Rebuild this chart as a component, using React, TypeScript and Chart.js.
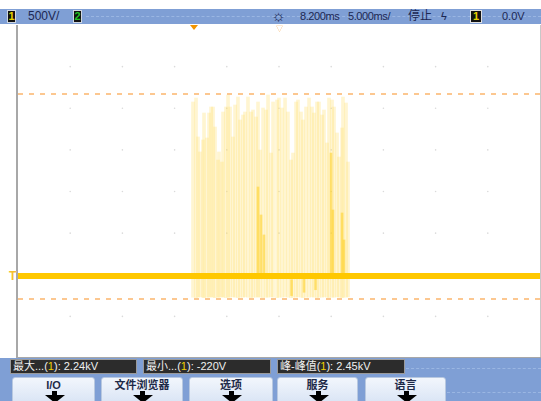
import React, { useEffect, useRef } from "react";
import { Chart, registerables } from "chart.js";

Chart.register(...registerables);

// time axis (ms), 10 divisions of 5 ms; voltage axis (V), 8 divisions of 500 V
const xTicks = [-25, -20, -15, -10, -5, 0, 5, 10, 15, 20, 25];
const yTicks = [-1000, -500, 0, 500, 1000, 1500, 2000, 2500, 3000];

// light burst spikes
const spikeTimes = [
  -8.24, -7.95, -7.76, -7.57, -7.28, -7.18, -6.9, -6.7, -6.51, -6.32, -6.13, -5.84, -5.75, -5.46,
  -5.36, -5.08, -4.88, -4.69, -4.41, -4.21, -3.93, -3.73, -3.45, -3.26, -2.97, -2.68, -2.49, -2.2,
  -2.01, -1.82, -1.53, -1.24, -1.05, -0.76, -0.57, -0.19, 0.0, 0.29, 0.58, 0.86, 1.15, 1.34, 1.63,
  1.82, 2.11, 2.3, 2.59, 2.88, 3.16, 3.35, 3.64, 3.83, 4.12, 4.31, 4.6, 4.79, 5.08, 5.27, 5.56,
  5.75, 6.04, 6.13, 6.42, 6.61,
];
const spikeTops = [
  2075, 2123, 1655, 1475, 1619, 1943, 1643, 1943, 2015, 2015, 1775, 1378, 1475, 1354,
  1955, 2015, 2159, 2015, 1655, 2039, 2135, 1859, 1919, 1955, 2135, 1955, 1979, 1895,
  2075, 1498, 2003, 1979, 2159, 1462, 2075, 2099, 2123, 2003, 2123, 1955, 1378, 1462, 2075,
  2099, 1955, 1859, 2015, 2123, 2015, 1943, 2075, 2075, 1919, 1979, 1583, 2123, 2099, 2015, 1703,
  1414, 1763, 2135, 2063, 1354,
];
const spikeBottoms = [
  -270, -275, -270, -265, -270, -275, -270, -270, -265, -270, -275, -270, -270, -265,
  -270, -275, -270, -270, -265, -270, -275, -270, -270, -265, -270, -275, -270, -270,
  -265, -270, -275, -270, -270, -265, -270, -275, -270, -270, -265, -270, -275, -270, -270,
  -265, -270, -275, -270, -270, -265, -270, -275, -270, -270, -265, -270, -275, -270, -270,
  -265, -270, -275, -270, -270, -265,
];

// brighter (denser) spikes
const darkTimes = [-2.01, -1.72, -1.44, 1.2, 2.4, 3.5, 4.98, 5.17, 6.04, 6.23];
const darkTops = [1054, 718, 478, -60, -40, -30, 1462, 778, 742, 418];
const darkBottoms = [0, 0, 0, -250, -210, -180, 0, 0, 0, 0];

// main trace and cursor levels
const traceTimes = [-25, 25];
const traceValues = [-15, -15];
const maxCursor = 2170;
const minCursor = -290;

const topBarItems = ["500V/", "8.200ms", "5.000ms/", "停止", "0.0V"];
const measureLabels = ["最大...(", "最小...(", "峰-峰值("];
const measureValues = ["): 2.24kV", "): -220V", "): 2.45kV"];
const buttonLabels = ["I/O", "文件浏览器", "选项", "服务", "语言"];

const FONT = '"Liberation Sans", "Noto Sans CJK SC", Arial, sans-serif';
const BLUE = "#7f9fd5";

const measureBoxes = [
  { left: 10, width: 127 },
  { left: 143, width: 128 },
  { left: 277, width: 128 },
];
const buttonBoxes = [
  { left: 12, width: 83 },
  { left: 101, width: 82 },
  { left: 189, width: 84 },
  { left: 277, width: 81 },
  { left: 365, width: 81 },
];

function Badge({ left, text, color }: { left: number; text: string; color: string }) {
  return (
    <div
      style={{
        position: "absolute",
        left,
        top: 10,
        width: 9,
        height: 13,
        background: "#111",
        border: "1px solid #cfd6e0",
        boxSizing: "border-box",
        color,
        fontFamily: FONT,
        fontWeight: "bold",
        fontSize: 11,
        lineHeight: "11px",
        textAlign: "center",
      }}
    >
      {text}
    </div>
  );
}

export default function App() {
  const ref = useRef<HTMLCanvasElement | null>(null);

  useEffect(() => {
    if (!ref.current) return;
    const gridPoints: { x: number; y: number }[] = [];
    xTicks.slice(1, -1).forEach((x) => yTicks.slice(1, -1).forEach((y) => gridPoints.push({ x, y })));

    const chart = new Chart(ref.current, {
      type: "bar",
      data: {
        datasets: [
          {
            type: "line",
            label: "trace",
            data: traceTimes.map((x, i) => ({ x, y: traceValues[i] })),
            borderColor: "#ffc800",
            borderWidth: 6,
            pointRadius: 0,
            order: 0,
          } as any,
          {
            type: "line",
            label: "max",
            data: [
              { x: xTicks[0], y: maxCursor },
              { x: xTicks[xTicks.length - 1], y: maxCursor },
            ],
            borderColor: "#fcc790",
            borderWidth: 2,
            borderDash: [5, 6],
            pointRadius: 0,
            order: 1,
          } as any,
          {
            type: "line",
            label: "min",
            data: [
              { x: xTicks[0], y: minCursor },
              { x: xTicks[xTicks.length - 1], y: minCursor },
            ],
            borderColor: "#fcc790",
            borderWidth: 2,
            borderDash: [5, 6],
            pointRadius: 0,
            order: 1,
          } as any,
          {
            type: "bar",
            label: "dense",
            data: darkTimes.map((x, i) => ({ x, y: [darkBottoms[i], darkTops[i]] })),
            backgroundColor: "rgba(255, 205, 20, 0.5)",
            barThickness: 2,
            grouped: false,
            order: 2,
          } as any,
          {
            type: "bar",
            label: "burst",
            data: spikeTimes.map((x, i) => ({ x, y: [spikeBottoms[i], spikeTops[i]] })),
            backgroundColor: "rgba(255, 220, 90, 0.28)",
            barThickness: 3,
            grouped: false,
            order: 3,
          } as any,
          {
            type: "line",
            label: "grid",
            data: gridPoints,
            showLine: false,
            pointRadius: 0.8,
            pointBorderWidth: 0,
            pointBackgroundColor: "#dadada",
            order: 4,
          } as any,
        ],
      },
      options: {
        animation: false,
        responsive: false,
        maintainAspectRatio: false,
        layout: { padding: 0, autoPadding: false },
        plugins: { legend: { display: false }, tooltip: { enabled: false } },
        scales: {
          x: { type: "linear", min: xTicks[0], max: xTicks[xTicks.length - 1], display: false, offset: false },
          y: { type: "linear", min: yTicks[0], max: yTicks[yTicks.length - 1], display: false },
        },
      },
    } as any);
    return () => chart.destroy();
  }, []);

  const textStyle: React.CSSProperties = {
    position: "absolute",
    top: 9,
    fontFamily: FONT,
    fontSize: 12,
    color: "#1c2752",
    lineHeight: "15px",
    whiteSpace: "nowrap",
  };

  return (
    <div
      style={{
        position: "absolute",
        left: 0,
        top: 0,
        width: 541,
        height: 401,
        overflow: "hidden",
        background: "#fff",
      }}
    >
      {/* top status bar */}
      <div style={{ position: "absolute", left: 0, top: 9, width: 541, height: 15, background: BLUE }} />
      <div
        style={{ position: "absolute", left: 86, top: 16, width: 455, borderTop: "1px dashed #9ab6e2" }}
      />
      <Badge left={7} text="1" color="#e6d200" />
      <div style={{ ...textStyle, left: 28 }}>{topBarItems[0]}</div>
      <Badge left={73} text="2" color="#22c222" />
      <div style={{ ...textStyle, left: 271, top: 7, fontSize: 16, lineHeight: "18px" }}>☼</div>
      <div style={{ ...textStyle, left: 300, fontSize: 11, letterSpacing: -0.4 }}>{topBarItems[1]}</div>
      <div style={{ ...textStyle, left: 348, fontSize: 11, letterSpacing: -0.4 }}>{topBarItems[2]}</div>
      <div style={{ ...textStyle, left: 408, fontSize: 12 }}>{topBarItems[3]}</div>
      <div style={{ ...textStyle, left: 441, fontSize: 11 }}>ϟ</div>
      <div
        style={{
          position: "absolute",
          left: 470,
          top: 10,
          width: 12,
          height: 13,
          background: "#111",
          border: "1px solid #e0e0e0",
          boxSizing: "border-box",
          color: "#e6d200",
          fontFamily: FONT,
          fontWeight: "bold",
          fontSize: 11,
          lineHeight: "11px",
          textAlign: "center",
        }}
      >
        1
      </div>
      <div style={{ ...textStyle, left: 502, fontSize: 11 }}>{topBarItems[4]}</div>

      {/* plot area */}
      <canvas
        ref={ref}
        width={522}
        height={333}
        style={{ position: "absolute", left: 18, top: 25, width: 522, height: 333 }}
      />
      <div style={{ position: "absolute", left: 16, top: 25, width: 2, height: 333, background: "#a8a8a8" }} />
      <div style={{ position: "absolute", left: 540, top: 25, width: 1, height: 333, background: "#c8c8c8" }} />
      <div style={{ position: "absolute", left: 16, top: 357, width: 525, height: 1, background: "#a8a8a8" }} />
      {/* delay marker */}
      <div
        style={{
          position: "absolute",
          left: 190,
          top: 25,
          width: 0,
          height: 0,
          borderLeft: "4px solid transparent",
          borderRight: "4px solid transparent",
          borderTop: "5px solid #f29400",
        }}
      />
      <div
        style={{
          position: "absolute",
          left: 276,
          top: 23,
          fontSize: 7,
          color: "#f6b060",
          fontFamily: FONT,
        }}
      >
        ▽
      </div>
      {/* ground marker */}
      <div
        style={{
          position: "absolute",
          left: 9,
          top: 269,
          fontSize: 12,
          fontWeight: "bold",
          color: "#f4c030",
          fontFamily: FONT,
        }}
      >
        T
      </div>

      {/* bottom bar */}
      <div style={{ position: "absolute", left: 0, top: 358, width: 541, height: 43, background: BLUE }} />
      <div
        style={{ position: "absolute", left: 406, top: 368, width: 135, borderTop: "1px dashed #9ab6e2" }}
      />
      <div
        style={{ position: "absolute", left: 447, top: 392, width: 94, borderTop: "1px dashed #9ab6e2" }}
      />
      {measureBoxes.map((b, i) => (
        <div
          key={i}
          style={{
            position: "absolute",
            left: b.left,
            top: 359,
            width: b.width,
            height: 15,
            background: "#2c2c2c",
            border: "1px solid #9a9a9a",
            boxSizing: "border-box",
            color: "#f0f0f0",
            fontFamily: FONT,
            fontSize: 11,
            lineHeight: "13px",
            paddingLeft: 2,
            whiteSpace: "nowrap",
            overflow: "hidden",
          }}
        >
          {measureLabels[i]}
          <span style={{ color: "#f0d000" }}>1</span>
          {measureValues[i]}
        </div>
      ))}
      {buttonBoxes.map((b, i) => (
        <div
          key={i}
          style={{
            position: "absolute",
            left: b.left,
            top: 377,
            width: b.width,
            height: 30,
            background: "linear-gradient(#f2f6fc, #d6e2f4)",
            borderRadius: 3,
            border: "1px solid #b8c8e0",
            boxSizing: "border-box",
          }}
        >
          <div
            style={{
              position: "absolute",
              left: 0,
              top: 1,
              width: "100%",
              textAlign: "center",
              fontFamily: FONT,
              fontSize: 11,
              fontWeight: "bold",
              color: "#1e2a48",
              lineHeight: "13px",
            }}
          >
            {buttonLabels[i]}
          </div>
          <div
            style={{
              position: "absolute",
              left: b.width / 2 - 3,
              top: 13,
              width: 5,
              height: 5,
              background: "#000",
            }}
          />
          <div
            style={{
              position: "absolute",
              left: b.width / 2 - 10,
              top: 17,
              width: 0,
              height: 0,
              borderLeft: "10px solid transparent",
              borderRight: "10px solid transparent",
              borderTop: "8px solid #000",
            }}
          />
        </div>
      ))}
    </div>
  );
}
